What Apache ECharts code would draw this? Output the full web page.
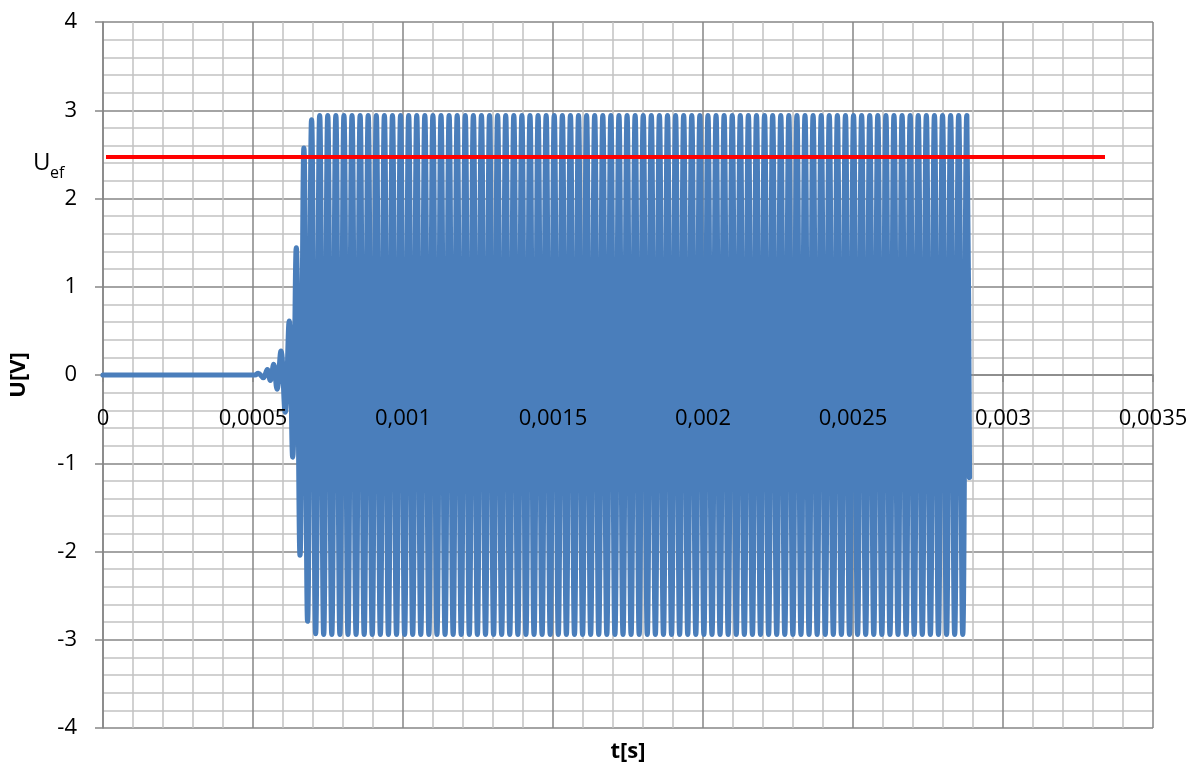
<!DOCTYPE html>
<html><head><meta charset="utf-8">
<script src="https://cdn.jsdelivr.net/npm/echarts@6/dist/echarts.min.js"></script>
<style>html,body{margin:0;padding:0;background:#fff}#c{width:1193px;height:764px}</style>
</head><body><div id="c"></div>
<script>
// ---- data ----
// extrema (and start / end points) of the measured signal, time in microseconds
const tUs = [
0, 506.7, 517.7, 534.3, 547.7, 557.7, 569.0, 580.0, 593.3, 607.3, 620.7, 632.3, 644.3, 656.7, 669.7, 682.0,
695.3, 708.8, 722.3, 735.7, 749.2, 762.7, 776.2, 789.7, 803.2, 816.6,
830.1, 843.6, 857.1, 870.6, 884.0, 897.5, 911.0, 924.5, 938.0, 951.4,
964.9, 978.4, 991.9, 1005.4, 1018.9, 1032.3, 1045.8, 1059.3, 1072.8, 1086.3,
1099.7, 1113.2, 1126.7, 1140.2, 1153.7, 1167.2, 1180.6, 1194.1, 1207.6, 1221.1,
1234.6, 1248.0, 1261.5, 1275.0, 1288.5, 1302.0, 1315.4, 1328.9, 1342.4, 1355.9,
1369.4, 1382.9, 1396.3, 1409.8, 1423.3, 1436.8, 1450.3, 1463.7, 1477.2, 1490.7,
1504.2, 1517.7, 1531.2, 1544.6, 1558.1, 1571.6, 1585.1, 1598.6, 1612.0, 1625.5,
1639.0, 1652.5, 1666.0, 1679.4, 1692.9, 1706.4, 1719.9, 1733.4, 1746.9, 1760.3,
1773.8, 1787.3, 1800.8, 1814.3, 1827.7, 1841.2, 1854.7, 1868.2, 1881.7, 1895.2,
1908.6, 1922.1, 1935.6, 1949.1, 1962.6, 1976.0, 1989.5, 2003.0, 2016.5, 2030.0,
2043.5, 2056.9, 2070.4, 2083.9, 2097.4, 2110.9, 2124.3, 2137.8, 2151.3, 2164.8,
2178.3, 2191.7, 2205.2, 2218.7, 2232.2, 2245.7, 2259.2, 2272.6, 2286.1, 2299.6,
2313.1, 2326.6, 2340.0, 2353.5, 2367.0, 2380.5, 2394.0, 2407.5, 2420.9, 2434.4,
2447.9, 2461.4, 2474.9, 2488.3, 2501.8, 2515.3, 2528.8, 2542.3, 2555.8, 2569.2,
2582.7, 2596.2, 2609.7, 2623.2, 2636.6, 2650.1, 2663.6, 2677.1, 2690.6, 2704.0,
2717.5, 2731.0, 2744.5, 2758.0, 2771.5, 2784.9, 2798.4, 2811.9, 2825.4, 2838.9,
2852.3, 2865.8, 2879.3, 2888.3
];
// voltage at those points, V
const uV = [
0, 0, 0.02, -0.03, 0.06, -0.06, 0.12, -0.16, 0.27, -0.42, 0.61, -0.93, 1.44, -2.04, 2.57, -2.79,
2.89, -2.93, 2.94, -2.94, 2.94, -2.94, 2.94, -2.94, 2.94, -2.94,
2.94, -2.94, 2.94, -2.94, 2.94, -2.94, 2.94, -2.94, 2.94, -2.94,
2.94, -2.94, 2.94, -2.94, 2.94, -2.94, 2.94, -2.94, 2.94, -2.94,
2.94, -2.94, 2.94, -2.94, 2.94, -2.94, 2.94, -2.94, 2.94, -2.94,
2.94, -2.94, 2.94, -2.94, 2.94, -2.94, 2.94, -2.94, 2.94, -2.94,
2.94, -2.94, 2.94, -2.94, 2.94, -2.94, 2.94, -2.94, 2.94, -2.94,
2.94, -2.94, 2.94, -2.94, 2.94, -2.94, 2.94, -2.94, 2.94, -2.94,
2.94, -2.94, 2.94, -2.94, 2.94, -2.94, 2.94, -2.94, 2.94, -2.94,
2.94, -2.94, 2.94, -2.94, 2.94, -2.94, 2.94, -2.94, 2.94, -2.94,
2.94, -2.94, 2.94, -2.94, 2.94, -2.94, 2.94, -2.94, 2.94, -2.94,
2.94, -2.94, 2.94, -2.94, 2.94, -2.94, 2.94, -2.94, 2.94, -2.94,
2.94, -2.94, 2.94, -2.94, 2.94, -2.94, 2.94, -2.94, 2.94, -2.94,
2.94, -2.94, 2.94, -2.94, 2.94, -2.94, 2.94, -2.94, 2.94, -2.94,
2.94, -2.94, 2.94, -2.94, 2.94, -2.94, 2.94, -2.94, 2.94, -2.94,
2.94, -2.94, 2.94, -2.94, 2.94, -2.94, 2.94, -2.94, 2.94, -2.94,
2.94, -2.94, 2.94, -2.94, 2.94, -2.94, 2.94, -2.94, 2.94, -2.94,
2.94, -2.94, 2.94, -1.16
];
// effective value line
const uefValue = 2.47;
const uefStartEnd = [0.00001, 0.00334];
// axis ticks
const xTickValues = [0, 0.0005, 0.001, 0.0015, 0.002, 0.0025, 0.003, 0.0035];
const xTickLabels = ['0', '0,0005', '0,001', '0,0015', '0,002', '0,0025', '0,003', '0,0035'];
const yTickValues = [-4, -3, -2, -1, 0, 1, 2, 3, 4];

// ---- chart ----
const FONT = "'Open Sans', 'Liberation Sans', sans-serif";
const GRID = '#868686', MINOR = '#c2c2c2';
const signal = tUs.map((t, i) => [t / 1e6, uV[i]]);
const uefLine = uefStartEnd.map(t => [t, uefValue]);
const xMin = xTickValues[0], xMax = xTickValues[xTickValues.length - 1];
const xFmt = v => {
  const i = xTickValues.findIndex(x => Math.abs(x - v) < 1e-9);
  return i >= 0 ? xTickLabels[i] : '';
};

const chart = echarts.init(document.getElementById('c'), null, {renderer: 'canvas'});
chart.setOption({
  animation: false,
  backgroundColor: '#fff',
  grid: {left: 103, right: 40, top: 22, bottom: 36, containLabel: false, outerBoundsMode: 'none'},
  xAxis: [
    { // grid lines, axis line and ticks (under the signal)
      type: 'value', position: 'bottom', offset: 0, z: 0,
      min: xMin, max: xMax, interval: 0.0005,
      axisLine: {show: true, onZero: false, lineStyle: {color: GRID, width: 1.5}},
      axisTick: {show: true, length: 7, lineStyle: {color: GRID, width: 1.5}},
      axisLabel: {show: false},
      splitLine: {show: true, lineStyle: {color: GRID, width: 1.5}},
      minorTick: {show: false, splitNumber: 5},
      minorSplitLine: {show: true, lineStyle: {color: MINOR, width: 1.5}}
    },
    { // tick labels (drawn over the signal)
      type: 'value', position: 'bottom', offset: 0, z: 10,
      min: xMin, max: xMax, interval: 0.0005,
      axisLine: {show: false, onZero: false},
      axisTick: {show: false},
      axisLabel: {margin: 33, fontSize: 22, color: '#000', fontFamily: FONT, formatter: xFmt},
      splitLine: {show: false}
    }
  ],
  yAxis: {
    type: 'value',
    min: yTickValues[0], max: yTickValues[yTickValues.length - 1], interval: 1,
    axisLine: {show: true, onZero: false, lineStyle: {color: GRID, width: 1.5}},
    axisTick: {show: true, length: 8, lineStyle: {color: GRID, width: 1.5}},
    axisLabel: {margin: 26, fontSize: 22, color: '#000', fontFamily: FONT},
    splitLine: {show: true, lineStyle: {color: GRID, width: 1.5}},
    minorTick: {show: false, splitNumber: 5},
    minorSplitLine: {show: true, lineStyle: {color: MINOR, width: 1.5}}
  },
  series: [
    {
      type: 'line', data: signal, smooth: 0.4, showSymbol: false, symbol: 'none',
      xAxisIndex: 0, yAxisIndex: 0,
      lineStyle: {color: '#4a7ebb', width: 5.2, cap: 'round', join: 'round'},
      z: 2
    },
    {
      type: 'line', data: uefLine, showSymbol: false, symbol: 'none',
      xAxisIndex: 0, yAxisIndex: 0,
      lineStyle: {color: '#ff0000', width: 4},
      z: 3
    }
  ]
});

// put the horizontal axis (line, ticks, labels) on U = 0
const yZero = chart.convertToPixel({yAxisIndex: 0}, 0);
const yMinPx = chart.convertToPixel({yAxisIndex: 0}, yTickValues[0]);
const L = chart.convertToPixel({yAxisIndex: 0}, uefValue);
const off = yZero - yMinPx;
chart.setOption({
  xAxis: [{offset: off}, {offset: off}],
  graphic: [
    {type: 'text', x: 33, y: L + 6.5, style: {text: 'U', font: "24px " + FONT, fill: '#000', textVerticalAlign: 'middle', textAlign: 'left'}},
    {type: 'text', x: 50, y: L + 16, style: {text: 'ef', font: "16px " + FONT, fill: '#000', textVerticalAlign: 'middle', textAlign: 'left'}},
    {type: 'text', x: 628, y: 752, style: {text: 't[s]', font: "bold 22px " + FONT, fill: '#000', textVerticalAlign: 'middle', textAlign: 'center'}},
    {type: 'text', x: 19, y: 375, rotation: Math.PI / 2, style: {text: 'U[V]', font: "bold 22px " + FONT, fill: '#000', textVerticalAlign: 'middle', textAlign: 'center'}}
  ]
});
</script>
</body></html>
